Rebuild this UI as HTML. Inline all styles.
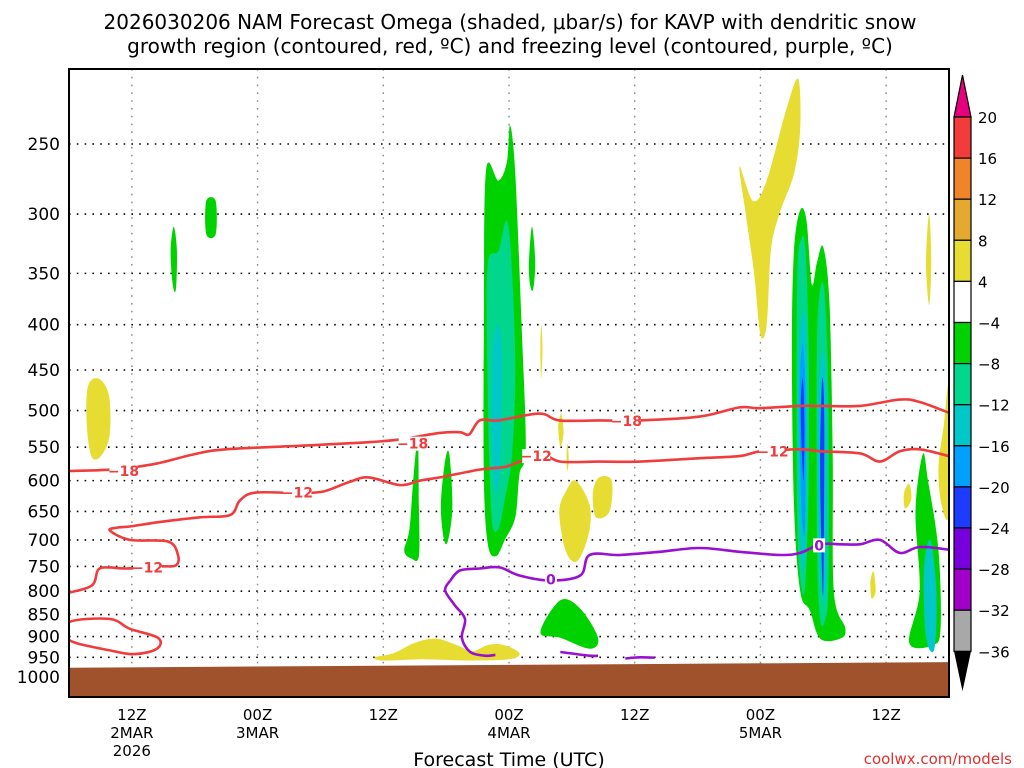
<!DOCTYPE html>
<html><head><meta charset="utf-8">
<style>
html,body{margin:0;padding:0;background:#fff;}
svg{display:block;font-family:"DejaVu Sans","Liberation Sans",sans-serif;}
</style></head>
<body>
<svg id="chart" width="1024" height="768" viewBox="0 0 1024 768" xmlns="http://www.w3.org/2000/svg">
<text x="510" y="29" text-anchor="middle" font-size="20">2026030206 NAM Forecast Omega (shaded, μbar/s) for KAVP with dendritic snow</text>
<text x="510" y="53" text-anchor="middle" font-size="20">growth region (contoured, red, ºC) and freezing level (contoured, purple, ºC)</text>
<g id="grid"></g>
<g id="shade"></g>
<g id="lines"></g>
<g id="axes"></g>
<g id="cbar"></g>
<text x="509" y="766" text-anchor="middle" font-size="19">Forecast Time (UTC)</text>
<text x="1012" y="764" text-anchor="end" font-size="15" fill="#e03030">coolwx.com/models</text>
</svg>
<script>
const NS='http://www.w3.org/2000/svg';
const X0=69,X1=949,Y0=69,Y1=697;
const HMAX=84;
const pTicks=[250,300,350,400,450,500,550,600,650,700,750,800,850,900,950,1000];
const xTickHours=[6,18,30,42,54,66,78];
const xTickL1=['12Z','00Z','12Z','00Z','12Z','00Z','12Z'];
const xTickL2=['2MAR','3MAR','','4MAR','','5MAR',''];
const xTickL3=['2026','','','','','',''];
const cbLevels=[20,16,12,8,4,-4,-8,-12,-16,-20,-24,-28,-32,-36];
const cbColors=['#f23c3c','#f08428','#e4aa30','#e6dc32','#ffffff','#00d200','#00d68c','#00c8c8','#00a0ff','#1e3cff','#7800dc','#a000c8','#a8a8a8'];
const levelColor={y:'#e6dc32',g:'#00d200',sg:'#00d68c',c:'#00c8c8',lb:'#00a0ff',b:'#1e3cff',p:'#7800dc'};
const blobLevels=['y','y','y','y','y','y','y','y','y','y','y','y','g','g','g','g','g','g','g','g','g','sg','c','g','sg','sg','c','c','lb','b','b','g','c'];
const blobShapes=[
[[1.8,470],[2.8,460],[3.8,480],[3.9,530],[3.2,560],[2.2,565],[1.7,520]],
[[64.0,265],[65.3,290],[66.6,275],[68.4,230],[69.6,211],[69.8,240],[69.2,270],[67.8,300],[67.0,330],[66.6,400],[66.0,410],[65.4,350],[64.6,300]],
[[46.8,650],[47.5,615],[48.4,600],[49.7,640],[49.6,690],[48.5,740],[47.4,720]],
[[50.0,620],[50.6,595],[51.8,600],[51.6,650],[50.3,660]],
[[29.2,950],[31,940],[33,915],[35,905],[37,920],[38.5,935],[40,920],[41.5,920],[43,940],[42,955],[38,958],[34,955],[30,958]],
[[83.0,580],[83.5,520],[84,470],[84,650],[83.3,640]],
[[81.8,340],[82.1,300],[82.3,340],[82.1,380]],
[[79.7,620],[80.2,605],[80.4,630],[79.8,645]],
[[76.5,780],[76.8,760],[77.0,800],[76.6,815]],
[[46.7,520],[47.0,505],[47.2,530],[46.9,550]],
[[45.0,420],[45.1,400],[45.2,430],[45.05,460]],
[[47.5,560],[47.6,545],[47.7,570],[47.55,585]],
[[39.8,268],[41.0,275],[41.8,262],[42.1,238],[42.6,270],[43.2,400],[43.6,550],[43.0,590],[42.6,660],[41.6,700],[40.8,730],[40.0,710],[39.6,600],[39.6,400]],
[[32.5,680],[32.9,590],[33.3,540],[33.4,640],[33.4,730],[32.7,735],[32.0,720]],
[[35.5,640],[35.9,570],[36.3,560],[36.6,640],[36.2,700],[35.8,700]],
[[9.7,330],[10.0,310],[10.3,330],[10.2,365],[9.9,360]],
[[13.1,290],[14.0,290],[14.0,316],[13.1,316]],
[[45,890],[46.9,819],[48.8,837],[50.5,903],[49.7,929],[46.9,903]],
[[43.9,340],[44.2,310],[44.5,340],[44.3,365],[44.0,360]],
[[69.0,426],[69.2,330],[69.8,297],[70.4,305],[70.9,360],[71.4,340],[72.0,327],[72.6,380],[72.9,560],[73.0,800],[74.1,880],[73.6,905],[71.7,905],[70.7,840],[69.8,800],[69.2,640]],
[[80.8,650],[81.5,560],[82.0,600],[83.0,720],[83.2,880],[82.5,920],[80.2,915],[81.2,800]],
[[40.0,340],[41.0,330],[41.8,305],[42.3,350],[42.6,450],[42.3,560],[41.6,630],[41.0,680],[40.4,670],[40.1,560],[39.9,420]],
[[40.4,440],[40.9,400],[41.3,430],[41.2,560],[40.8,620],[40.4,560]],
[[40.5,700],[40.6,690],[40.7,710]],
[[69.5,360],[69.9,320],[70.3,330],[70.6,420],[70.6,600],[70.3,780],[69.9,790],[69.5,650]],
[[71.4,420],[71.8,360],[72.2,380],[72.5,500],[72.5,780],[72.2,860],[71.7,860],[71.4,700]],
[[69.6,450],[70.0,390],[70.4,420],[70.4,650],[70.1,760],[69.7,650]],
[[71.5,500],[71.9,430],[72.3,480],[72.3,760],[72.0,820],[71.6,700]],
[[69.75,470],[70.05,420],[70.3,480],[70.25,680],[69.9,640]],
[[69.85,500],[70.05,460],[70.2,520],[70.1,600]],
[[71.7,560],[71.9,460],[72.1,520],[72.0,800],[71.8,700]],
[[80.5,900],[81,880],[81.5,900],[81,915]],
[[81.6,760],[82.2,700],[82.8,800],[82.6,930],[81.8,900]]
];
const cM18=[[0,585],[4,583],[8,575],[12,560],[15,553],[22,548],[28.6,543],[31.6,539],[35.4,530],[37.3,529],[38.2,532],[39.2,513],[41,513],[44.9,504],[46.8,513],[50.7,513],[54.5,513],[60.2,508],[64,496],[65.9,497],[69.8,494],[71.7,494],[75.5,494],[79.3,486],[81.2,489],[84,503]];
const cM12a=[[0,803],[2.2,788],[2.8,756],[3.9,752],[5.35,754],[8.7,750],[10.2,748],[10.4,728],[9.45,703],[5.8,700],[3.9,683],[4.6,678],[5.8,676],[8.7,668],[12.5,660],[15.4,656],[16.3,632],[17.8,619],[22,620],[24,618],[24.9,614],[26.8,602],[28.6,595],[31.6,607],[33.5,600],[35.4,595],[39.2,583],[41.6,579],[43,571],[45,559],[46.9,571],[50.5,571],[54.5,571],[60.2,566],[64,563],[66,556],[69.8,553],[71.7,556],[75.5,559],[77.4,571],[79.3,556],[81.2,553],[84,563]];
const cM12b=[[0,867],[3.9,860],[5.8,882],[8.5,903],[8.4,929],[6.3,942],[3.9,933],[0,908]];
const c0=[[36.4,778],[37.3,758],[39.2,754],[41.1,752],[43,768],[45.9,778],[48.8,768],[49.7,728],[52.6,728],[56.4,722],[60.2,715],[64,722],[67.9,728],[69.8,724],[71.7,708],[73.6,708],[75.5,708],[77.4,700],[79.3,724],[81.2,713],[84,718]];
const c0b=[[36.4,778],[35.9,798],[36.8,829],[37.8,860],[37.5,903],[38.3,937],[39.7,946],[40.7,944]];
const c0c=[[46.9,937],[49.7,946],[50.5,946]];
const c0d=[[53.1,953],[54.5,950],[55.9,951]];
const labels=[['-18',5.2,585,'#f03c3c'],['-18',32.8,545,'#f03c3c'],['-18',53.2,514,'#f03c3c'],['-12',21.8,619,'#f03c3c'],['-12',7.5,752,'#f03c3c'],['-12',44.6,563,'#f03c3c'],['-12',67.2,556,'#f03c3c'],['0',46,776,'#9a10d0'],['0',71.6,710,'#9a10d0']];
const groundP=[[0,976],[84,962]];

const xs=h=>X0+h*(X1-X0)/HMAX;
const ys=p=>144+384.5*Math.log(p/250);
function el(tag,attrs,parent){const e=document.createElementNS(NS,tag);for(const k in attrs)e.setAttribute(k,attrs[k]);parent.appendChild(e);return e;}
function smooth(pts,closed){
  const P=pts.map(d=>[xs(d[0]),ys(d[1])]);const n=P.length;
  let s='M'+P[0][0].toFixed(1)+','+P[0][1].toFixed(1);
  const m=closed?n:n-1;
  for(let i=0;i<m;i++){
    const p0=P[closed?(i-1+n)%n:Math.max(i-1,0)],p1=P[i],p2=P[(i+1)%n],p3=P[closed?(i+2)%n:Math.min(i+2,n-1)];
    const c1=[p1[0]+(p2[0]-p0[0])/6,p1[1]+(p2[1]-p0[1])/6],c2=[p2[0]-(p3[0]-p1[0])/6,p2[1]-(p3[1]-p1[1])/6];
    s+='C'+c1.map(v=>v.toFixed(1))+' '+c2.map(v=>v.toFixed(1))+' '+p2.map(v=>v.toFixed(1));
  }
  return s+(closed?'Z':'');
}
const shade=document.getElementById('shade');
const clip=el('clipPath',{id:'pc'},el('defs',{},document.getElementById('chart')));
el('rect',{x:X0,y:Y0,width:X1-X0,height:Y1-Y0},clip);
shade.setAttribute('clip-path','url(#pc)');
blobShapes.forEach((b,i)=>{
  const e=el('path',{d:smooth(b,true),fill:levelColor[blobLevels[i]]},shade);
  
  
});
const gy0=ys(groundP[0][1]),gy1=ys(groundP[1][1]);
const gnd=el('polygon',{points:`${X0},${gy0} ${X1},${gy1} ${X1},${Y1} ${X0},${Y1}`,fill:'#a0522d'},shade);


const grid=document.getElementById('grid');
pTicks.forEach(p=>{el('line',{x1:X0,x2:X1,y1:ys(p),y2:ys(p),stroke:'#000','stroke-width':1.6,'stroke-dasharray':'1.6 6.2'},grid);});
xTickHours.forEach(h=>{el('line',{x1:xs(h),x2:xs(h),y1:Y0,y2:Y1,stroke:'#888','stroke-width':1.4,'stroke-dasharray':'1.6 6.2'},grid);});
const lines=document.getElementById('lines');
lines.setAttribute('clip-path','url(#pc)');
[[cM18,'#f03c3c','contour-minus18',false],[cM12a,'#f03c3c','contour-minus12',false],[cM12b,'#f03c3c','contour-minus12-low',true],[c0,'#9a10d0','freezing-level',false],[c0b,'#9a10d0','freezing-level-dip',false],[c0c,'#9a10d0','freezing-level-seg',false],[c0d,'#9a10d0','freezing-level-seg2',false]].forEach(c=>{
  const e=el('path',{d:smooth(c[0],c[3]),fill:'none',stroke:c[1],'stroke-width':2.6,'stroke-linejoin':'round'},lines);
  
  
});
labels.forEach(l=>{
  const x=xs(l[1]),y=ys(l[2]);
  const w=l[0].length>1?28:12;
  el('rect',{x:x-w/2,y:y-7,width:w,height:14,fill:'#fff'},lines);
  const t=el('text',{x:x,y:y+5,'text-anchor':'middle','font-size':14,'font-weight':'bold',fill:l[3]},lines);
  t.textContent=l[0].replace('-','−');
  
  
});
const axes=document.getElementById('axes');
el('rect',{x:X0,y:Y0,width:X1-X0,height:Y1-Y0,fill:'none',stroke:'#000','stroke-width':2},axes);
pTicks.forEach(p=>{
  const t=el('text',{x:60,y:ys(p)+6,'text-anchor':'end','font-size':17},axes);
  t.textContent=p;
  
  
});
xTickHours.forEach((h,i)=>{
  [xTickL1[i],xTickL2[i],xTickL3[i]].forEach((s,j)=>{
    if(!s)return;
    const t=el('text',{x:xs(h),y:720+j*18,'text-anchor':'middle','font-size':15},axes);
    t.textContent=s;
    
    
  });
});
const cb=document.getElementById('cbar');
const CX0=954,CX1=971,CT=117,CS=41.1;
el('polygon',{points:`${CX0},${CT} ${CX1},${CT} ${(CX0+CX1)/2},75`,fill:'#e6007e',stroke:'#000','stroke-width':1.2},cb);
cbColors.forEach((c,i)=>{
  const r=el('rect',{x:CX0,y:CT+i*CS,width:CX1-CX0,height:CS,fill:c,stroke:'#000','stroke-width':1.2},cb);
  
  
});
const CB=CT+cbColors.length*CS;
el('polygon',{points:`${CX0},${CB} ${CX1},${CB} ${(CX0+CX1)/2},${CB+40}`,fill:'#000'},cb);
cbLevels.forEach((v,i)=>{
  const t=el('text',{x:978,y:CT+i*CS+6,'font-size':15},cb);
  t.textContent=(v<0?'−':'')+Math.abs(v);
  
  
});
</script>
</body></html>
